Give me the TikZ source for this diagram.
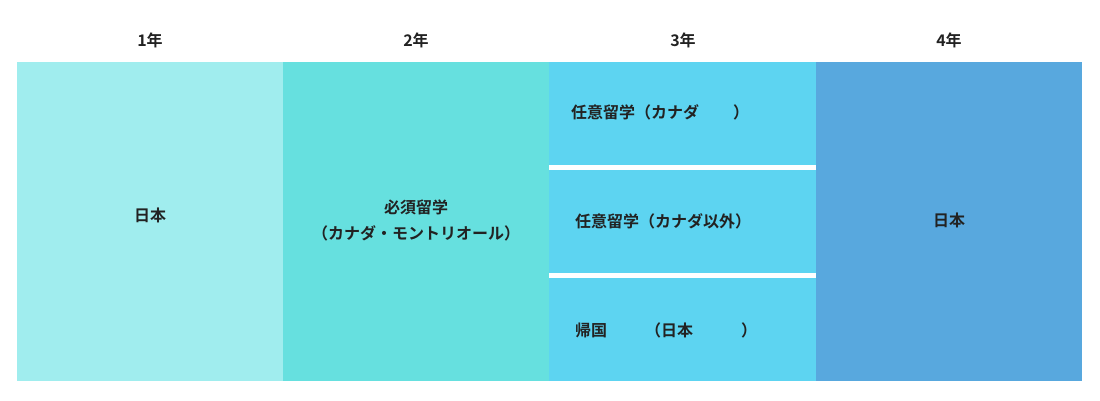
\documentclass[tikz,border=0pt]{standalone}
\usepackage{fontspec}
\newfontfamily\cjk{Noto Sans CJK JP Bold}
\definecolor{cA}{HTML}{A0EDEE}
\definecolor{cB}{HTML}{66E0DF}
\definecolor{cC}{HTML}{5DD4F1}
\definecolor{cD}{HTML}{58A8DE}
\definecolor{tx}{HTML}{222222}
\tikzset{cell/.style={inner sep=0pt,outer sep=0pt,draw=none},
 lab/.style={font=\cjk\fontsize{16}{22}\selectfont,text=tx,inner sep=0pt}}
\begin{document}
\begin{tikzpicture}[x=1pt,y=-1pt]
\useasboundingbox (0,0) rectangle (1100,400);
\fill[cA] (17,62) rectangle (283,381);
\fill[cB] (283,62) rectangle (549,381);
\fill[cC] (549,62) rectangle (816,165);
\fill[cC] (549,170) rectangle (816,273);
\fill[cC] (549,278) rectangle (816,381);
\fill[cD] (816,62) rectangle (1082,381);
\node[lab] (h1) at (150,40) {1年};
\node[lab] (h2) at (416,40) {2年};
\node[lab] (h3) at (683,40) {3年};
\node[lab] (h4) at (949,40) {4年};
\node[lab] (t1) at (150,215) {日本};
\node[lab,align=center,font=\cjk\fontsize{16}{26}\selectfont] (t2) at (416,220) {必須留学\\（カナダ・モントリオール）};
\node[lab,anchor=west] (t3a) at (571,112) {任意留学（カナダ\hspace{34pt}）};
\node[lab,anchor=west] (t3b) at (575,221) {任意留学（カナダ以外）};
\node[lab,anchor=west] (t3c) at (575,330) {帰国\hspace{38pt}（日本\hspace{48pt}）};
\node[lab] (t4) at (949,220) {日本};
\end{tikzpicture}
\end{document}
